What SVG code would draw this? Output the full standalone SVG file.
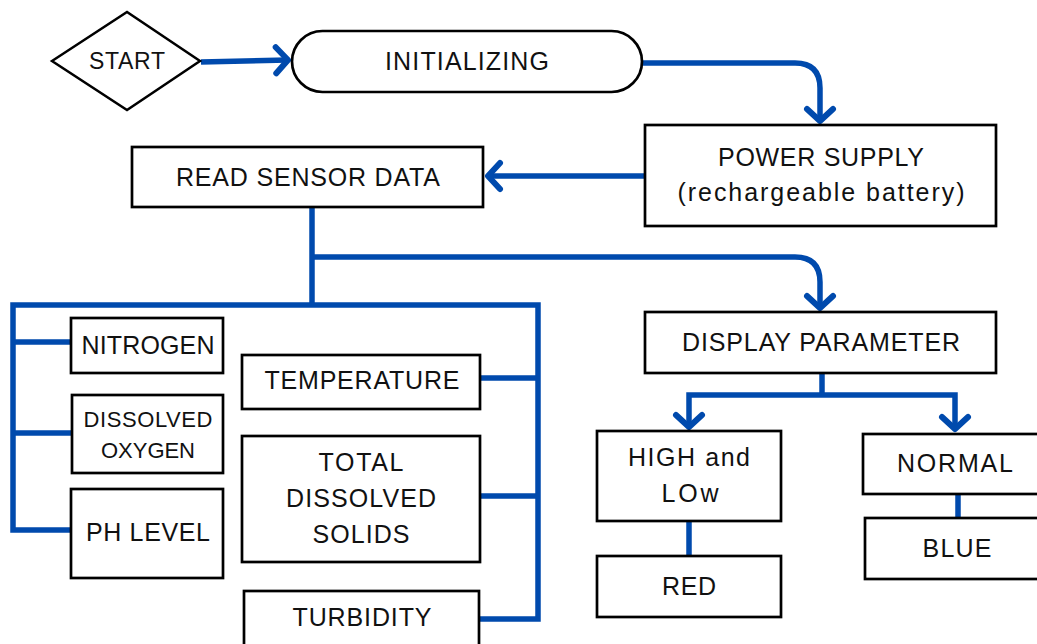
<svg xmlns="http://www.w3.org/2000/svg" width="1037" height="644" viewBox="0 0 1037 644">
<style>
.box{fill:#fff;stroke:#000;stroke-width:2.7}
.t{font-family:"Liberation Sans",Arial,sans-serif;font-size:25px;fill:#111;text-anchor:middle}
.s{font-size:22px}
.c{fill:none;stroke:#004aad;stroke-width:5.5;stroke-linejoin:miter}
</style>
<defs>
<marker id="arr" markerUnits="userSpaceOnUse" viewBox="-20 -20 30 40" refX="0" refY="0" markerWidth="30" markerHeight="40" orient="auto" overflow="visible">
<path d="M-12,-13 L0,0 L-12,13" fill="none" stroke="#004aad" stroke-width="6" stroke-linecap="round" stroke-linejoin="round"/>
</marker>
</defs>
<rect width="1037" height="644" fill="#fff"/>
<g id="connectors">
<path class="c" d="M201,62 L288,60" marker-end="url(#arr)"/>
<path class="c" d="M643,63 H795 Q820,63 820,88 V121" marker-end="url(#arr)"/>
<path class="c" d="M645,176 H488" marker-end="url(#arr)"/>
<path class="c" d="M312,207 V305"/>
<path class="c" d="M312,257 H795 Q820,257 820,282 V308" marker-end="url(#arr)"/>
<path class="c" d="M71,530 H13 V305 H538 V619 H480"/>
<path class="c" d="M13,342 H71 M13,433 H72 M480,378 H538 M480,496 H538"/>
<path class="c" d="M822,373 V395"/>
<path class="c" d="M822,395 H689 V427" marker-end="url(#arr)"/>
<path class="c" d="M822,395 H955 V429" marker-end="url(#arr)"/>
<path class="c" d="M689,521 V556 M958,494 V518"/>
</g>
<g id="start">
<polygon points="52,61 127,12 200,61 127,110" fill="#fff" stroke="#000" stroke-width="2.5"/>
<text class="t" x="127" y="69" style="font-size:23px" textLength="76" lengthAdjust="spacing">START</text>
</g>
<g id="initializing">
<rect class="box" x="292" y="31" width="350" height="61" rx="30.5"/>
<text class="t" x="467" y="70" textLength="164" lengthAdjust="spacing">INITIALIZING</text>
</g>
<g id="power-supply">
<rect class="box" x="645" y="125" width="351" height="101"/>
<text class="t" x="821" y="166" textLength="206" lengthAdjust="spacing">POWER SUPPLY</text>
<text class="t" x="821" y="201" textLength="287" lengthAdjust="spacing">(rechargeable battery)</text>
</g>
<g id="read-sensor-data">
<rect class="box" x="132" y="147" width="351" height="60"/>
<text class="t" x="308" y="186" textLength="264" lengthAdjust="spacing">READ SENSOR DATA</text>
</g>
<g id="display-parameter">
<rect class="box" x="645" y="312" width="351" height="61"/>
<text class="t" x="821" y="351" textLength="278" lengthAdjust="spacing">DISPLAY PARAMETER</text>
</g>
<g id="nitrogen">
<rect class="box" x="71" y="318" width="152" height="55"/>
<text class="t" x="148" y="354" textLength="133" lengthAdjust="spacing">NITROGEN</text>
</g>
<g id="dissolved-oxygen">
<rect class="box" x="72" y="395" width="151" height="78"/>
<text class="t s" x="148" y="427" textLength="129" lengthAdjust="spacing">DISSOLVED</text>
<text class="t s" x="148" y="458" textLength="94" lengthAdjust="spacing">OXYGEN</text>
</g>
<g id="ph-level">
<rect class="box" x="71" y="489" width="152" height="89"/>
<text class="t" x="148" y="541" textLength="124" lengthAdjust="spacing">PH LEVEL</text>
</g>
<g id="temperature">
<rect class="box" x="242" y="355" width="238" height="54"/>
<text class="t" x="362" y="389" textLength="195" lengthAdjust="spacing">TEMPERATURE</text>
</g>
<g id="total-dissolved-solids">
<rect class="box" x="242" y="436" width="238" height="126"/>
<text class="t" x="361" y="471" textLength="85" lengthAdjust="spacing">TOTAL</text>
<text class="t" x="361" y="507" textLength="150" lengthAdjust="spacing">DISSOLVED</text>
<text class="t" x="361" y="543" textLength="97" lengthAdjust="spacing">SOLIDS</text>
</g>
<g id="turbidity">
<rect class="box" x="244" y="591" width="235" height="70"/>
<text class="t" x="362" y="626" textLength="139" lengthAdjust="spacing">TURBIDITY</text>
</g>
<g id="high-low">
<rect class="box" x="597" y="431" width="184" height="90"/>
<text class="t" x="689" y="466" textLength="122" lengthAdjust="spacing">HIGH and</text>
<text class="t" x="690" y="502" textLength="57" lengthAdjust="spacing">LOw</text>
</g>
<g id="red">
<rect class="box" x="597" y="556" width="184" height="61"/>
<text class="t" x="689" y="595" textLength="54" lengthAdjust="spacing">RED</text>
</g>
<g id="normal">
<rect class="box" x="863" y="434" width="188" height="60"/>
<text class="t" x="955" y="472" textLength="116" lengthAdjust="spacing">NORMAL</text>
</g>
<g id="blue">
<rect class="box" x="865" y="518" width="188" height="61"/>
<text class="t" x="957" y="557" textLength="69" lengthAdjust="spacing">BLUE</text>
</g>
</svg>
